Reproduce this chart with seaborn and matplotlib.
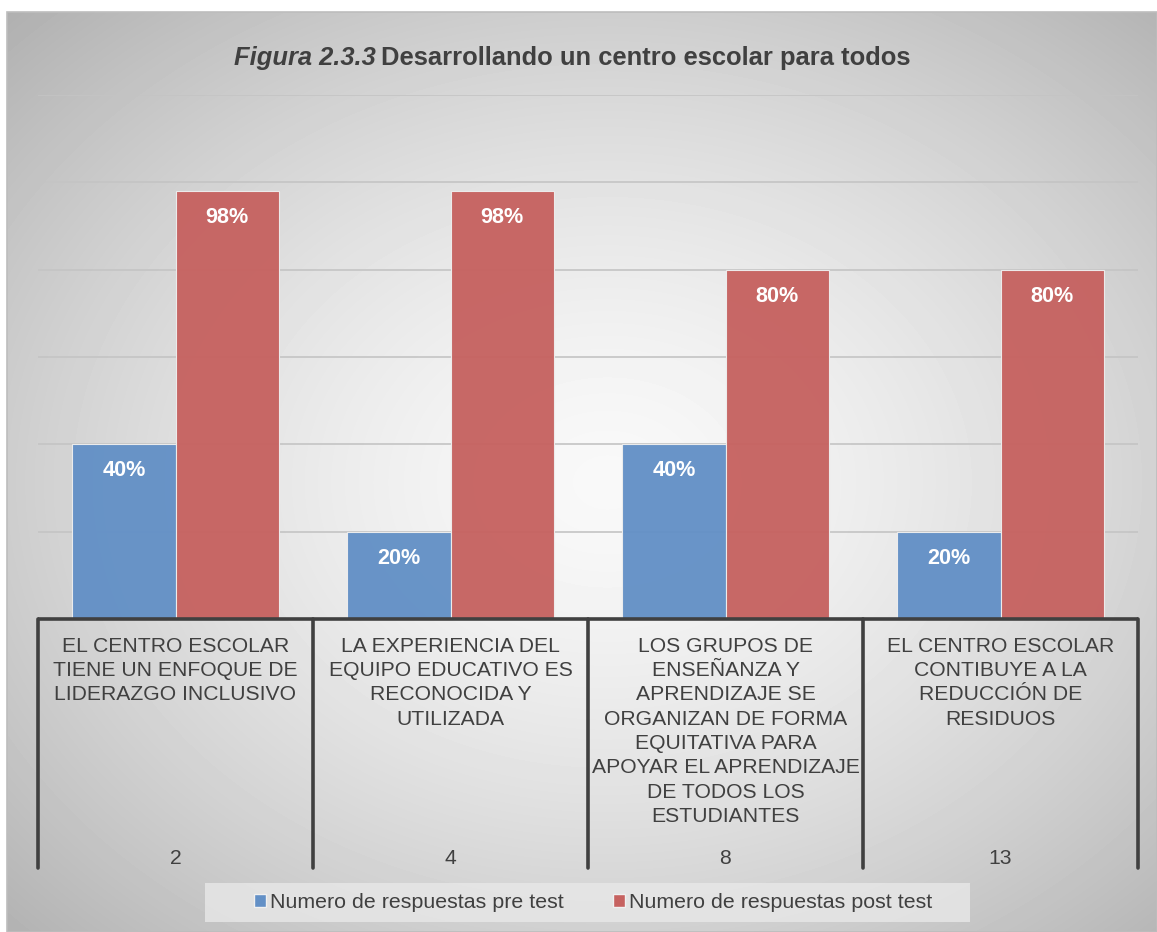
import seaborn as sns
import matplotlib.pyplot as plt
import pandas as pd
import numpy as np
from matplotlib.patches import Patch, Rectangle

# data
categories = ['EL CENTRO ESCOLAR\nTIENE UN ENFOQUE DE\nLIDERAZGO INCLUSIVO',
              'LA EXPERIENCIA DEL\nEQUIPO EDUCATIVO ES\nRECONOCIDA Y\nUTILIZADA',
              'LOS GRUPOS DE\nENSEÑANZA Y\nAPRENDIZAJE SE\nORGANIZAN DE FORMA\nEQUITATIVA PARA\nAPOYAR EL APRENDIZAJE\nDE TODOS LOS\nESTUDIANTES',
              'EL CENTRO ESCOLAR\nCONTIBUYE A LA\nREDUCCIÓN DE\nRESIDUOS']
codes = ['2', '4', '8', '13']
pre_test = [0.40, 0.20, 0.40, 0.20]
post_test = [0.98, 0.98, 0.80, 0.80]
series = ['Numero de respuestas pre test', 'Numero de respuestas post test']
colors = ['#6390c6', '#c66260']

df = pd.DataFrame({'categoria': categories * 2,
                   'serie': [series[0]] * len(pre_test) + [series[1]] * len(post_test),
                   'valor': pre_test + post_test})

sns.set_theme(style='white')
plt.rcParams['font.family'] = ['Liberation Sans', 'DejaVu Sans']
txt = '#404040'

W, H = 1157, 932
def fx(px):
    return px / W
def fy(py):
    return 1 - py / H

fig = plt.figure(figsize=(W / 100, H / 100), dpi=100)

# radial gradient background (chart area)
bg = fig.add_axes([fx(7), 0, 1 - fx(7), fy(12)])
yy, xx = np.mgrid[0:920, 0:1150]
d = np.hypot((xx - 600) / 600, (yy - 470) / 470)
shade = np.clip(0.975 - 0.17 * d ** 1.5, 0, 1)
bg.imshow(shade, cmap='gray', vmin=0, vmax=1, aspect='auto', interpolation='bilinear')
bg.set_axis_off()
fig.patches.append(Rectangle((fx(7), 0), 1 - fx(7), fy(12), transform=fig.transFigure,
                             fill=False, edgecolor='#bdbdbd', lw=1.2))

# main plot
ax = fig.add_axes([fx(38), fy(619), fx(1138) - fx(38), fy(95) - fy(619)])
ax.patch.set_alpha(0)
sns.barplot(data=df, x='categoria', y='valor', hue='serie', palette=colors, saturation=1,
            width=0.75, edgecolor='#eeeeee', linewidth=0.8, alpha=0.96, legend=False, ax=ax)
ax.set_xlim(-0.5, len(categories) - 0.5)
ax.set_ylim(0, 1.2)
ax.set_yticks(np.arange(0, 1.21, 0.2))
ax.grid(axis='y', color='#c4c4c4', lw=1.2)
ax.set_axisbelow(True)
ax.set_xticks([])
ax.set_yticklabels([])
ax.tick_params(left=False, bottom=False)
ax.set_xlabel('')
ax.set_ylabel('')
for s in ax.spines.values():
    s.set_visible(False)

# data labels
for cont in ax.containers:
    for bar in cont:
        h = bar.get_height()
        ax.annotate(f'{h * 100:.0f}%', (bar.get_x() + bar.get_width() / 2, h),
                    xytext=(0, -19), textcoords='offset points', ha='center', va='center',
                    color='white', fontsize=15.6, weight='bold')

# multi-level category axis
trans = ax.get_xaxis_transform()
ah = 619 - 95
ax.plot([-0.5, len(categories) - 0.5], [0, 0], transform=trans, color=txt, lw=2.6,
        clip_on=False, solid_capstyle='butt')
for b in np.arange(-0.5, len(categories), 1):
    ax.plot([b, b], [0, -(868 - 619) / ah], transform=trans, color=txt, lw=2.6, clip_on=False)
for i, (cat, code) in enumerate(zip(categories, codes)):
    ax.text(i, -(637 - 619) / ah, cat, transform=trans, ha='center', va='top',
            fontsize=15.2, color=txt, linespacing=1.35, multialignment='center')
    ax.text(i, -(858 - 619) / ah, code, transform=trans, ha='center', va='center',
            fontsize=15.2, color=txt)

# legend
fig.patches.append(Rectangle((fx(205), fy(922)), fx(970) - fx(205), fy(883) - fy(922),
                             transform=fig.transFigure, facecolor='#e8e8e8', edgecolor='none', alpha=0.8))
handles = [Patch(facecolor=c, edgecolor='#f0f0f0') for c in colors]
fig.legend(handles, series, loc='center', bbox_to_anchor=(fx(593), fy(903)), ncol=2,
           frameon=False, fontsize=15.4, handlelength=0.55, handleheight=0.55,
           handletextpad=0.2, columnspacing=2.3, labelcolor=txt)

# title: italic part + bold part
ty = fy(58)
t1 = fig.text(0, ty, 'Figura 2.3.3', fontsize=18.4, weight='bold', style='italic', color=txt, va='center')
t2 = fig.text(0, ty, 'Desarrollando un centro escolar para todos', fontsize=18.4, weight='bold',
              color=txt, va='center')
r = fig.canvas.get_renderer()
w1 = t1.get_window_extent(r).width
w2 = t2.get_window_extent(r).width
gap = 5
x0 = 572 - (w1 + gap + w2) / 2
t1.set_x(x0 / W)
t2.set_x((x0 + w1 + gap) / W)

fig.savefig('out.png', dpi=100)
